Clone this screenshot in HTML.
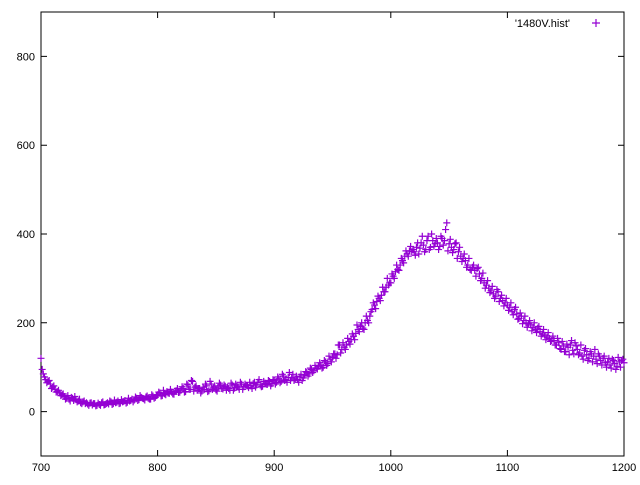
<!DOCTYPE html>
<html><head><meta charset="utf-8"><style>
body{margin:0;background:#fff}
svg text{font-family:"Liberation Sans",sans-serif;font-size:11px;fill:#000}
</style></head><body>
<svg id="chart" width="640" height="480" xmlns="http://www.w3.org/2000/svg">
<rect x="41" y="12" width="583" height="444" fill="none" stroke="#000" stroke-width="1"/>
<g id="axes"></g>
<g id="points"></g>
<g>
<text x="570" y="27" text-anchor="end">'1480V.hist'</text>
<path d="M592 23h8M596 19v8" stroke="#9400d3" stroke-width="1.2"/>
</g>
</svg>
<script>
const xTicks=[700,800,900,1000,1100,1200];
const yTicks=[0,200,400,600,800];
const xStart=700, xStep=2;
const counts=[120,85,72,68,62,55,50,45,42,38,
34,30,28,32,25,27,24,20,22,18,
17,19,15,18,14,16,20,15,18,17,
22,18,20,24,19,22,25,21,24,28,
26,30,27,32,29,33,30,28,35,32,
38,42,36,40,45,41,44,39,47,43,
48,52,45,60,50,68,55,48,52,46,
50,58,47,62,53,49,55,60,51,57,
55,48,60,53,58,50,62,56,59,54,
58,63,55,66,60,57,64,61,68,63,
70,66,74,68,80,72,77,70,84,73,
72,78,70,82,88,85,95,92,98,102,
105,100,112,108,118,122,130,128,150,140,
145,150,158,162,170,176,185,192,188,200,
205,215,230,240,248,255,262,270,280,285,
290,305,315,320,330,340,350,355,362,360,
360,370,355,380,375,365,395,370,385,378,
380,372,390,385,425,378,370,365,380,360,
350,345,340,330,320,325,318,322,310,300,
290,285,278,272,265,260,270,255,250,245,
240,235,225,230,220,210,215,205,200,198,
195,190,185,188,180,175,172,168,165,160,
160,150,155,140,148,135,145,150,138,155,
140,132,125,138,128,120,130,125,118,130,
115,120,110,112,105,118,108,102,112,115,
110];
const oddStart=701;
const oddCounts=[95,78,65,70,52,58,44,48,36,40,
28,36,24,30,34,22,28,18,24,20,
14,20,18,13,19,14,22,16,20,24,
16,26,21,18,27,23,19,30,25,22,
33,25,36,30,26,35,28,38,30,36,
44,35,48,38,42,50,40,46,52,44,
56,44,62,50,70,46,58,52,42,55,
62,45,68,50,58,46,64,52,60,48,
52,64,48,62,55,66,50,62,58,66,
52,66,60,72,56,68,62,70,58,72,
62,78,65,84,70,66,88,76,70,80,
66,84,76,90,80,98,88,104,96,110,
98,115,104,125,112,130,120,150,132,155,
140,165,152,175,162,195,180,200,185,215,
200,225,245,232,260,250,280,270,300,290,
310,300,330,318,345,335,362,350,372,365,
352,380,368,395,360,385,365,400,372,390,
365,395,375,410,362,388,358,378,345,370,
338,355,325,345,318,330,305,325,295,312,
278,295,268,282,255,275,248,262,238,255,
228,245,218,235,208,222,198,215,190,205,
182,200,178,192,170,185,162,178,158,170,
150,165,142,158,135,152,128,160,130,148,
128,150,118,142,115,135,112,140,108,125,
105,125,100,120,98,115,95,122,100,118];
const NS="http://www.w3.org/2000/svg";
const L=41,R=624,T=12,B=456;
function sx(v){return L+(v-700)/(1200-700)*(R-L);}
function sy(v){return B-(v+100)/(900+100)*(B-T);}
const ax=document.getElementById('axes');
function mk(tag,attrs,parent){const e=document.createElementNS(NS,tag);for(const k in attrs)e.setAttribute(k,attrs[k]);parent.appendChild(e);return e;}
xTicks.forEach(v=>{
 const x=sx(v);
 const t=mk('path',{d:`M${x} ${B}v-6M${x} ${T}v6`,stroke:'#000'},ax);
 
 
 const l=mk('text',{x:x,y:B+15,'text-anchor':'middle'},ax);
 l.textContent=v;
 
 
});
yTicks.forEach(v=>{
 const y=sy(v);
 const t=mk('path',{d:`M${L} ${y}h6M${R} ${y}h-6`,stroke:'#000'},ax);
 
 
 const l=mk('text',{x:35,y:y+4,'text-anchor':'end'},ax);
 l.textContent=v;
 
 
});
const pg=document.getElementById('points');
function plot(arr,start){
 arr.forEach((c,i)=>{
  const x=sx(start+i*xStep), y=sy(c);
  const p=mk('path',{d:`M${x-3.5} ${y}h7M${x} ${y-3.5}v7`,stroke:'#9400d3','stroke-width':1.2},pg);
  
  
 });
}
plot(counts,xStart);
plot(oddCounts,oddStart);
</script>
</body></html>
